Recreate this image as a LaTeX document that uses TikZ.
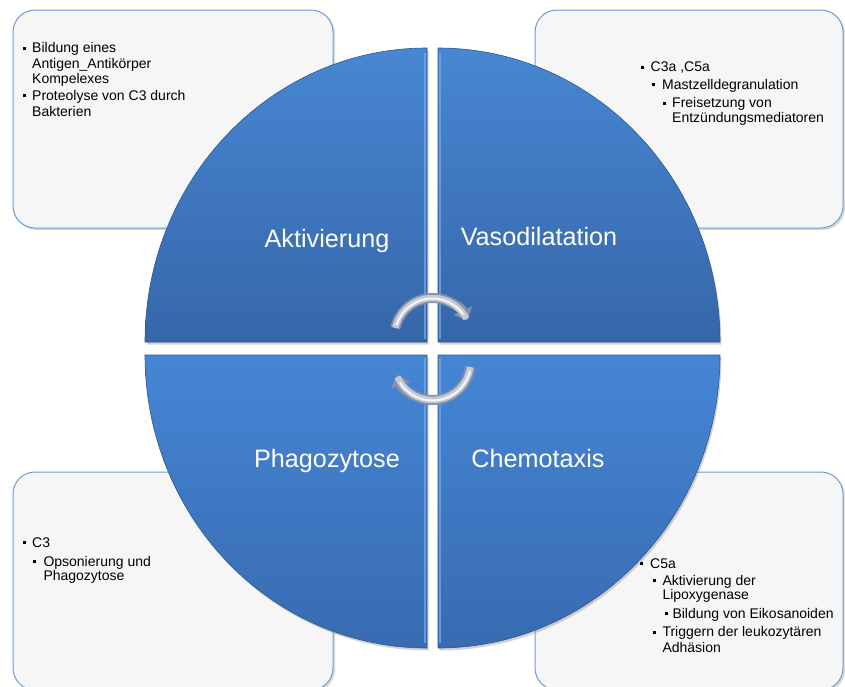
\documentclass[tikz,border=0pt]{standalone}
\usepackage{fontspec}
\setmainfont{Liberation Sans}
\usetikzlibrary{shadows,arrows.meta}

\definecolor{boxfill}{HTML}{F6F6F6}
\definecolor{boxline}{HTML}{6E9DD6}
\definecolor{qtop}{HTML}{4887D3}
\definecolor{qbot}{HTML}{3666A9}
\definecolor{qtopb}{HTML}{4586D5}
\definecolor{qbotb}{HTML}{386BB0}
\definecolor{qedge}{HTML}{2E5890}
\definecolor{qbevel}{HTML}{6FA6E6}
\definecolor{ringdark}{HTML}{8591A5}
\definecolor{ringmid}{HTML}{C3CAD6}
\definecolor{ringlight}{HTML}{F4F6F9}

% small square bullet followed by a fixed gap
\newcommand\sqbul{\rule[2.7pt]{3.2pt}{3.2pt}}
\newcommand\bl[1]{\makebox[#1pt][l]{\sqbul}}

\begin{document}
\begin{tikzpicture}[x=1pt,y=-1pt,
  infobox/.style={draw=boxline, line width=1pt, fill=boxfill, rounded corners=22pt,
    drop shadow={opacity=0.3, shadow xshift=2pt, shadow yshift=-2pt}},
  quarter/.style={draw=qedge, line width=0.6pt,
    drop shadow={opacity=0.35, shadow xshift=1.5pt, shadow yshift=-2.5pt}},
  bevel/.style={draw=qbevel, line width=1.6pt, opacity=0.8},
  lbl/.style={text=white, font=\fontsize{25.2}{29}\selectfont, inner sep=0pt, anchor=base},
  ln/.style={font=\fontsize{14}{16}\selectfont, inner sep=0pt, anchor=base west, text=black},
  ringout/.style={line width=10pt, draw=ringdark},
  ringin/.style={line width=6.5pt, draw=ringmid},
  ringhi/.style={line width=2pt, draw=ringlight},
  ringtip/.style={-{Triangle[width=20pt,length=11pt]}},
]
\useasboundingbox (0,0) rectangle (845,686);
\clip (0,0) rectangle (845,686);

% ---------- info boxes ----------
\path[infobox] (13,10) rectangle (333,228);
\path[infobox] (535,10) rectangle (843,228);
\path[infobox] (13,472) rectangle (333,690);
\path[infobox] (535,472) rectangle (843,690);

% top left text
\node[ln] (a1) at (23,52.7)  {\bl{9}Bildung eines};
\node[ln] (a2) at (32,68)    {Antigen\_Antikörper};
\node[ln] (a3) at (32,83.5)  {Kompelexes};
\node[ln] (a4) at (23,100)   {\bl{9}Proteolyse von C3 durch};
\node[ln] (a5) at (32,116.5) {Bakterien};

% top right text
\node[ln] (b1) at (641,71.5)  {\bl{9.5}C3a  ,C5a};
\node[ln] (b2) at (652,89)    {\bl{10}Mastzelldegranulation};
\node[ln] (b3) at (663,107.5) {\bl{9}Freisetzung von};
\node[ln] (b4) at (672,122.5) {Entzündungsmediatoren};

% bottom left text
\node[ln] (c1) at (23,547)  {\bl{9}C3};
\node[ln] (c2) at (33,566)  {\bl{10.3}Opsonierung und};
\node[ln] (c3) at (43.3,580.5) {Phagozytose};

% bottom right text
\node[ln] (d1) at (639.5,568) {\bl{10.5}C5a};
\node[ln] (d2) at (653,585)   {\bl{9.3}Aktivierung der};
\node[ln] (d3) at (662.3,599.5) {Lipoxygenase};
\node[ln] (d4) at (665,618)   {\bl{7.3}Bildung von Eikosanoiden};
\node[ln] (d5) at (653,636.5) {\bl{9.3}Triggern der leukozytären};
\node[ln] (d6) at (662.3,652) {Adhäsion};

% ---------- four quarters of the wheel ----------
\coordinate (qa) at (427,342);
\coordinate (qb) at (438,342);
\coordinate (qc) at (427,355);
\coordinate (qd) at (438,355);

\path[quarter, top color=qtop, bottom color=qbot]
  (qa) -- ++(-282,0) arc[start angle=180, end angle=270, x radius=282, y radius=294] -- cycle;
\path[quarter, top color=qtop, bottom color=qbot]
  (qb) -- ++(0,-294) arc[start angle=270, end angle=360, x radius=282, y radius=294] -- cycle;
\path[quarter, top color=qtopb, bottom color=qbotb]
  (qc) -- ++(-282,0) arc[start angle=180, end angle=90, x radius=282, y radius=293] -- cycle;
\path[quarter, top color=qtopb, bottom color=qbotb]
  (qd) -- ++(282,0) arc[start angle=0, end angle=90, x radius=282, y radius=293] -- cycle;

% light bevel along the inner edges
\draw[bevel] ([xshift=-2pt]qa) ++(0,-3) -- ++(0,-286);
\draw[bevel] ([xshift=2pt]qb) ++(0,-3) -- ++(0,-286);
\draw[bevel] ([xshift=-2pt]qc) ++(0,3) -- ++(0,285);
\draw[bevel] ([xshift=2pt]qd) ++(0,3) -- ++(0,285);

\node[lbl] (akt) at (327,247) {Aktivierung};
\node[lbl] (vas) at (539,245) {Vasodilatation};
\node[lbl] (pha) at (327,467) {Phagozytose};
\node[lbl] (che) at (538,467) {Chemotaxis};

% ---------- cycle arrows ----------
\coordinate (rt) at (432.5,336);
\coordinate (rb) at (432.5,362);

\draw[ringout, ringtip]
  ([shift={(192:38)}]rt) arc[start angle=192, end angle=336, radius=38];
\draw[ringin]
  ([shift={(192.5:38)}]rt) arc[start angle=192.5, end angle=333, radius=38];
\draw[ringhi]
  ([shift={(197:37.5)}]rt) arc[start angle=197, end angle=325, radius=37.5];

\draw[ringout, ringtip]
  ([shift={(8:38)}]rb) arc[start angle=8, end angle=160, radius=38];
\draw[ringin]
  ([shift={(7.5:38)}]rb) arc[start angle=7.5, end angle=157, radius=38];
\draw[ringhi]
  ([shift={(13:38.5)}]rb) arc[start angle=13, end angle=148, radius=38.5];
\end{tikzpicture}
\end{document}
